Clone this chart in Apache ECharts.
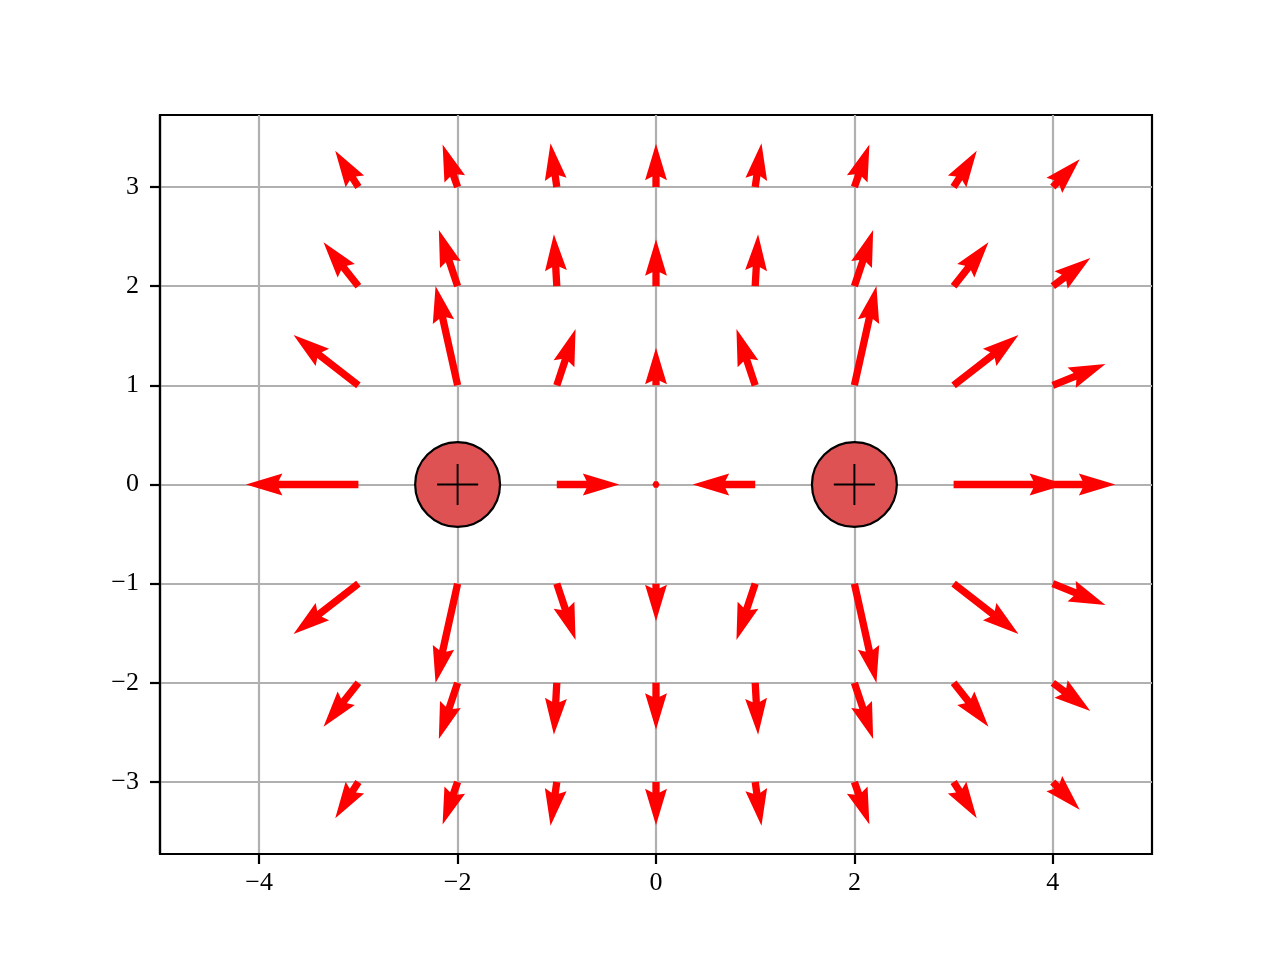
<!DOCTYPE html>
<html><head><meta charset="utf-8">
<script src="https://cdn.jsdelivr.net/npm/echarts@6/dist/echarts.min.js"></script>
<style>html,body{margin:0;padding:0;background:#fff}#c{width:1280px;height:960px}</style>
</head><body><div id="c"></div>
<script>
// Grid of arrow tails
const gridX = [-3, -2, -1, 0, 1, 2, 3, 4];
const gridY = [3, 2, 1, 0, -1, -2, -3];
// Field components (rows follow gridY, columns gridX); null = charge location
const fieldU = [
  [-0.247, -0.160, -0.067, 0, 0.067, 0.160, 0.247, 0.287],
  [-0.372, -0.200, -0.031, 0, 0.031, 0.200, 0.372, 0.400],
  [-0.692, -0.235,  0.200, 0, -0.200, 0.235, 0.692, 0.562],
  [-1.200,  null,   0.667, 0, -0.667, null,  1.200, 0.667],
  [-0.692, -0.235,  0.200, 0, -0.200, 0.235, 0.692, 0.562],
  [-0.372, -0.200, -0.031, 0, 0.031, 0.200, 0.372, 0.400],
  [-0.247, -0.160, -0.067, 0, 0.067, 0.160, 0.247, 0.287]
];
const fieldV = [
  [ 0.388,  0.453,  0.467,  0.462,  0.467,  0.453,  0.388,  0.297],
  [ 0.469,  0.600,  0.554,  0.500,  0.554,  0.600,  0.469,  0.300],
  [ 0.538,  1.059,  0.600,  0.400,  0.600,  1.059,  0.538,  0.227],
  [ 0,      null,   0,      0,      0,      null,   0,      0    ],
  [-0.538, -1.059, -0.600, -0.400, -0.600, -1.059, -0.538, -0.227],
  [-0.469, -0.600, -0.554, -0.500, -0.554, -0.600, -0.469, -0.300],
  [-0.388, -0.453, -0.467, -0.462, -0.467, -0.453, -0.388, -0.297]
];
// Charges
const chargeX = [-2, 2];
const chargeY = [0, 0];
// Ticks
const xTicks = [-4, -2, 0, 2, 4];
const yTicks = [-3, -2, -1, 0, 1, 2, 3];

const arrowData = [];
gridY.forEach((y, i) => gridX.forEach((x, j) => {
  const u = fieldU[i][j], v = fieldV[i][j];
  if (u === null || v === null) return;
  arrowData.push([x, y, u, v]);
}));
const chargeData = chargeX.map((x, i) => [x, chargeY[i]]);

const ARROW_SCALE = 0.945;   // data units per field unit
const SHAFT_W = 7.3;         // px
const CHARGE_R = 0.428;      // data units
const PLUS_HALF = 0.207;     // data units

function renderArrow(params, api) {
  const x = api.value(0), y = api.value(1), u = api.value(2), v = api.value(3);
  const p0 = api.coord([x, y]);
  const p1 = api.coord([x + u * ARROW_SCALE, y + v * ARROW_SCALE]);
  const dx = p1[0] - p0[0], dy = p1[1] - p0[1];
  const L = Math.hypot(dx, dy) / SHAFT_W;
  let pts;
  if (L < 1) {
    pts = [];
    for (let k = 0; k < 8; k++) { const th = k * Math.PI / 3; pts.push([Math.cos(th) * 0.5, Math.sin(th) * 0.5]); }
  } else if (L < 5) {
    const s = L / 5;
    pts = [[0,0.5],[0.5,0.5],[0,1.5],[5,0],[0,-1.5],[0.5,-0.5],[0,-0.5]].map(p => [p[0]*s, p[1]*s]);
  } else {
    pts = [[0,0.5],[L-4.5,0.5],[L-5,1.5],[L,0],[L-5,-1.5],[L-4.5,-0.5],[0,-0.5]];
  }
  const ang = (L < 1) ? 0 : Math.atan2(dy, dx);
  const c = Math.cos(ang), s = Math.sin(ang);
  const out = pts.map(p => [p0[0] + SHAFT_W * (p[0]*c - p[1]*s), p0[1] + SHAFT_W * (p[0]*s + p[1]*c)]);
  return { type: 'polygon', shape: { points: out }, style: { fill: '#ff0000', stroke: null } };
}

function renderCharge(params, api) {
  const c = api.coord([api.value(0), api.value(1)]);
  const r = api.size([CHARGE_R, 0])[0];
  const h = api.size([PLUS_HALF, 0])[0];
  return { type: 'group', children: [
    { type: 'circle', shape: { cx: c[0], cy: c[1], r: r }, style: { fill: '#de5253', stroke: '#000', lineWidth: 2.2 } },
    { type: 'line', shape: { x1: c[0]-h, y1: c[1], x2: c[0]+h, y2: c[1] }, style: { stroke: '#000', lineWidth: 1.9 } },
    { type: 'line', shape: { x1: c[0], y1: c[1]-h, x2: c[0], y2: c[1]+h }, style: { stroke: '#000', lineWidth: 1.9 } }
  ]};
}

const fmt = v => (v < 0 ? '\u2212' + Math.abs(v) : String(v));
const FONT = '"Liberation Serif", "DejaVu Serif", serif';

const chart = echarts.init(document.getElementById('c'), null, { renderer: 'canvas' });
chart.setOption({
  animation: false,
  backgroundColor: '#ffffff',
  grid: { left: 160, right: 128, top: 115, bottom: 106, show: true, borderColor: '#000', borderWidth: 2.2, backgroundColor: 'transparent' },
  xAxis: {
    type: 'value', min: -5, max: 5,
    axisLine: { show: true, onZero: false, lineStyle: { color: '#000', width: 2.2 } },
    axisTick: { show: true, inside: false, length: 10, customValues: xTicks, lineStyle: { color: '#000', width: 2.2 } },
    axisLabel: { show: true, customValues: xTicks, formatter: fmt, fontFamily: FONT, fontSize: 26, color: '#000', margin: 16 },
    splitLine: { show: true, lineStyle: { color: '#b0b0b0', width: 2.2 } }
  },
  yAxis: {
    type: 'value', min: -3.726, max: 3.726,
    axisLine: { show: true, onZero: false, lineStyle: { color: '#000', width: 2.2 } },
    axisTick: { show: true, inside: false, length: 10, customValues: yTicks, lineStyle: { color: '#000', width: 2.2 } },
    axisLabel: { show: true, customValues: yTicks, formatter: fmt, fontFamily: FONT, fontSize: 26, color: '#000', margin: 21 },
    splitLine: { show: true, lineStyle: { color: '#b0b0b0', width: 2.2 } }
  },
  series: [
    { type: 'custom', name: 'field', data: arrowData, renderItem: renderArrow, z: 3, silent: true, clip: true },
    { type: 'custom', name: 'charges', data: chargeData, renderItem: renderCharge, z: 4, silent: true }
  ]
});
</script>
</body></html>
